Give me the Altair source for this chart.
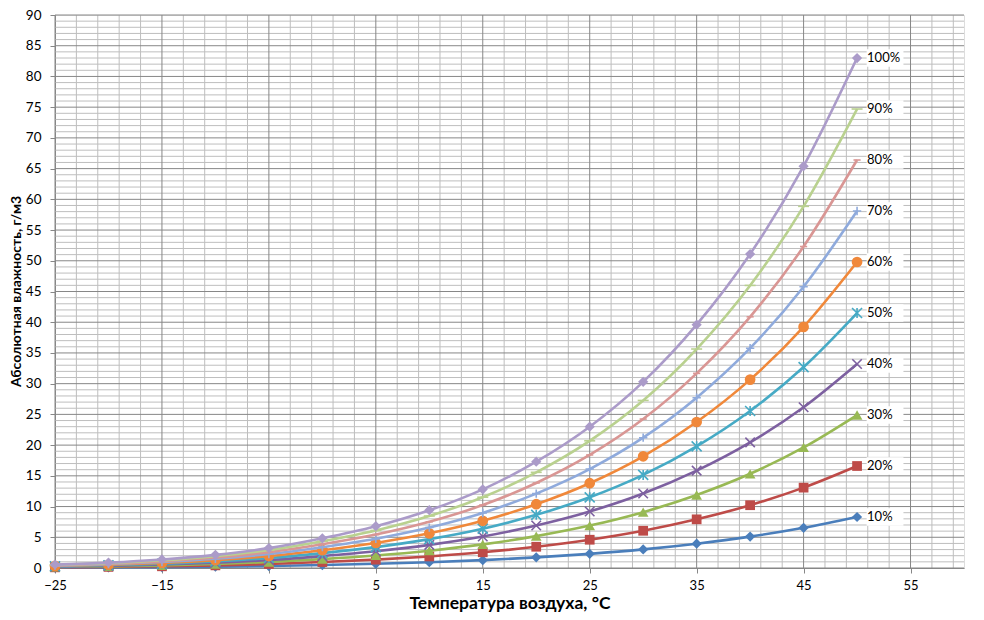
import altair as alt
import pandas as pd

temps = [-25, -20, -15, -10, -5, 0, 5, 10, 15, 20, 25, 30, 35, 40, 45, 50]

rh10 = [0.06, 0.09, 0.14, 0.21, 0.32, 0.48, 0.68, 0.94, 1.28, 1.73, 2.30, 3.03, 3.96, 5.11, 6.54, 8.30]
rh20 = [0.11, 0.18, 0.28, 0.43, 0.65, 0.97, 1.36, 1.88, 2.56, 3.46, 4.60, 6.06, 7.92, 10.22, 13.08, 16.60]
rh30 = [0.17, 0.26, 0.42, 0.64, 0.97, 1.45, 2.04, 2.82, 3.84, 5.19, 6.90, 9.09, 11.88, 15.33, 19.62, 24.90]
rh40 = [0.22, 0.35, 0.56, 0.86, 1.30, 1.94, 2.72, 3.76, 5.12, 6.92, 9.20, 12.12, 15.84, 20.44, 26.16, 33.20]
rh50 = [0.28, 0.44, 0.70, 1.07, 1.62, 2.42, 3.40, 4.70, 6.40, 8.65, 11.50, 15.15, 19.80, 25.55, 32.70, 41.50]
rh60 = [0.33, 0.53, 0.83, 1.28, 1.94, 2.90, 4.08, 5.64, 7.68, 10.38, 13.80, 18.18, 23.76, 30.66, 39.24, 49.80]
rh70 = [0.39, 0.62, 0.97, 1.50, 2.27, 3.39, 4.76, 6.58, 8.96, 12.11, 16.10, 21.21, 27.72, 35.77, 45.78, 58.10]
rh80 = [0.44, 0.70, 1.11, 1.71, 2.59, 3.87, 5.44, 7.52, 10.24, 13.84, 18.40, 24.24, 31.68, 40.88, 52.32, 66.40]
rh90 = [0.50, 0.79, 1.25, 1.93, 2.92, 4.36, 6.12, 8.46, 11.52, 15.57, 20.70, 27.27, 35.64, 45.99, 58.86, 74.70]
rh100 = [0.55, 0.88, 1.39, 2.14, 3.24, 4.84, 6.80, 9.40, 12.80, 17.30, 23.00, 30.30, 39.60, 51.10, 65.40, 83.00]

series_names = ["10%", "20%", "30%", "40%", "50%", "60%", "70%", "80%", "90%", "100%"]
series_values = [rh10, rh20, rh30, rh40, rh50, rh60, rh70, rh80, rh90, rh100]

x_ticks = [-25, -15, -5, 5, 15, 25, 35, 45, 55]
x_minor = [v for v in range(-23, 60, 2) if v not in x_ticks]
y_ticks = list(range(0, 91, 5))
y_minor = [v for v in range(1, 90) if v % 5 != 0]

colors = ["#4A7EBB", "#BE4B48", "#98B954", "#7D60A0", "#46AAC5",
          "#F0883A", "#8FAADC", "#D99694", "#B9D18F", "#AB9BC9"]
shapes = [
    "diamond", "square", "triangle-up",
    "M-1,-1L1,1M-1,1L1,-1",
    "M-1,-1L1,1M-1,1L1,-1M0,-1L0,1",
    "circle",
    "M-1,0L1,0M0,-1L0,1",
    "M-0.8,0L0.8,0",
    "M-1.1,0L1.1,0",
    "diamond",
]
filled = [True, True, True, False, False, True, False, False, False, True]
sizes = [105, 95, 115, 90, 100, 115, 70, 80, 100, 105]

FONT = "Lato"
xs = alt.Scale(domain=[-25, 60], nice=False, zero=False)
ys = alt.Scale(domain=[0, 90], nice=False, zero=False)

x_axis = alt.Axis(values=x_ticks, grid=False, title="Температура воздуха, °С",
                  labelFont=FONT, labelFontSize=13, labelColor="#000000",
                  labelPadding=6, tickSize=5, tickColor="#878787",
                  domainColor="#878787", titleFont=FONT, titleFontSize=17.5,
                  titleFontWeight="bold", titleColor="#000000",
                  titleY=40, titleBaseline="alphabetic", labelFlush=False)
y_axis = alt.Axis(values=y_ticks, grid=False, title="Абсолютная влажность, г/м3",
                  labelFont=FONT, labelFontSize=13.5, labelColor="#000000",
                  labelPadding=9, tickSize=5, tickColor="#878787",
                  domainColor="#878787", titleFont=FONT, titleFontSize=14,
                  titleFontWeight="bold", titleColor="#000000",
                  titleAngle=270, titleX=-39, titleY=276,
                  titleAlign="center", titleBaseline="middle", labelFlush=False)


def X(field):
    return alt.X(field, scale=xs, axis=x_axis)


def Y(field):
    return alt.Y(field, scale=ys, axis=y_axis)


grid_minor_x = alt.Chart(pd.DataFrame({"v": x_minor})).mark_rule(
    color="#BEBEBE", strokeWidth=1).encode(x=X("v:Q"))
grid_minor_y = alt.Chart(pd.DataFrame({"v": y_minor})).mark_rule(
    color="#BEBEBE", strokeWidth=1).encode(y=Y("v:Q"))
grid_major_x = alt.Chart(pd.DataFrame({"v": x_ticks})).mark_rule(
    color="#878787", strokeWidth=1).encode(x=X("v:Q"))
grid_major_y = alt.Chart(pd.DataFrame({"v": y_ticks})).mark_rule(
    color="#878787", strokeWidth=1).encode(y=Y("v:Q"))

layers = [grid_minor_x, grid_minor_y, grid_major_x, grid_major_y]

for name, vals, col, shp, fl, sz in zip(series_names, series_values, colors, shapes, filled, sizes):
    df = pd.DataFrame({"T": temps, "A": vals, "s": name})
    line = alt.Chart(df).mark_line(color=col, strokeWidth=2.6, interpolate="monotone").encode(
        x=X("T:Q"), y=Y("A:Q"))
    if fl:
        pts = alt.Chart(df).mark_point(shape=shp, filled=True, color=col, size=sz, opacity=1).encode(
            x=X("T:Q"), y=Y("A:Q"))
    else:
        pts = alt.Chart(df).mark_point(shape=shp, filled=False, color=col, size=sz, strokeWidth=1.6, opacity=1).encode(
            x=X("T:Q"), y=Y("A:Q"))
    layers += [line, pts]

label_df = pd.DataFrame({
    "T": [temps[-1]] * len(series_names),
    "A": [v[-1] for v in series_values],
    "lab": series_names,
})
label_bg = alt.Chart(label_df).mark_point(
    shape="M-1.15,-0.55H1.15V0.55H-1.15Z", filled=True, color="white", opacity=1,
    size=1024, xOffset=28).encode(x=X("T:Q"), y=Y("A:Q"))
label_txt = alt.Chart(label_df).mark_text(
    align="left", baseline="middle", dx=10, font=FONT, fontSize=13, color="#000000").encode(
    x=X("T:Q"), y=Y("A:Q"), text="lab:N")
layers += [label_bg, label_txt]

chart = alt.layer(*layers).properties(
    width=909, height=553,
    autosize=alt.AutoSizeParams(type="none"),
    padding={"left": 47, "top": 7, "right": 12, "bottom": 44},
).configure_view(stroke="#BEBEBE").configure(background="white")

chart.save("out.html", embed_options={"renderer": "svg", "actions": False})
